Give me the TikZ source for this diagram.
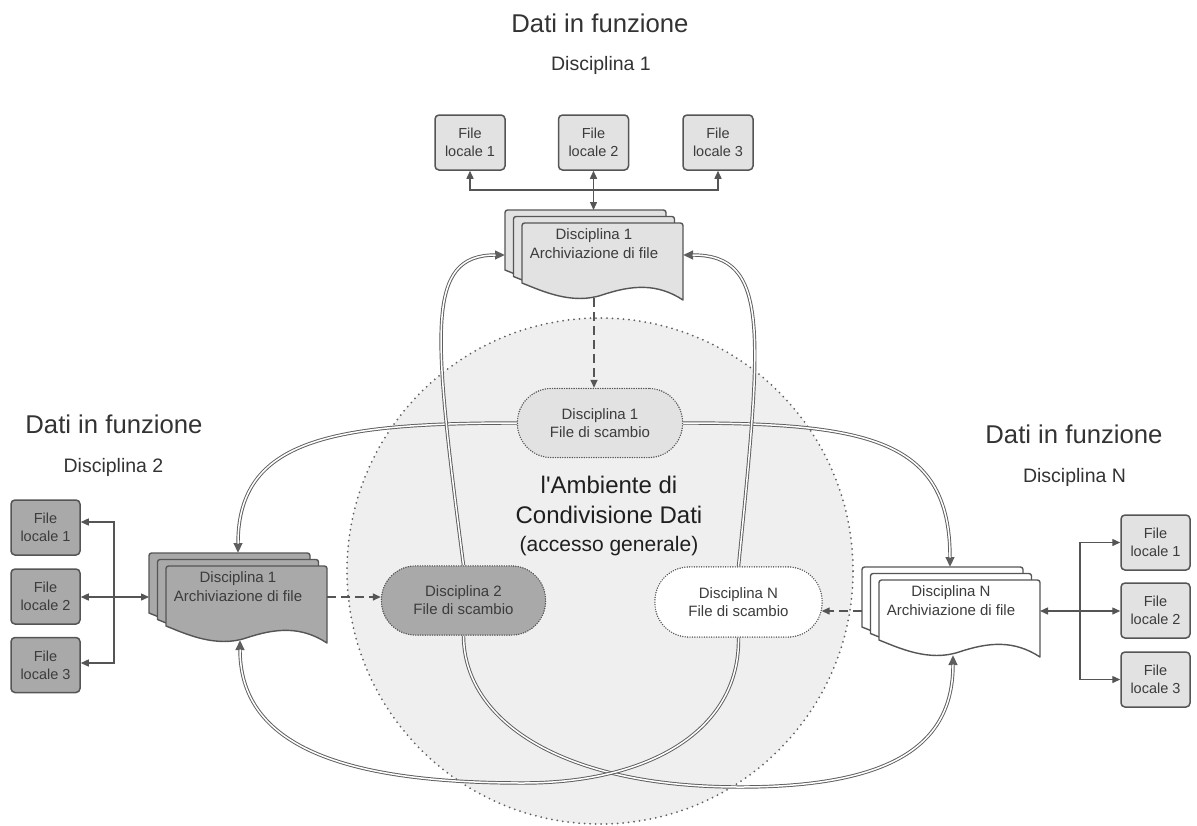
\documentclass[tikz,border=0pt]{standalone}
\usepackage{fontspec}
\setmainfont{Liberation Sans}[Ligatures=TeXOff]
\usetikzlibrary{arrows.meta}

\definecolor{ink}{HTML}{555555}
\definecolor{flowink}{HTML}{5E5E5E}
\definecolor{txt}{HTML}{3C3C3C}
\definecolor{titletxt}{HTML}{333333}
\definecolor{lightfill}{HTML}{E2E2E2}
\definecolor{darkfill}{HTML}{A9A9A9}
\definecolor{cdefill}{HTML}{EFEFEF}

\tikzset{
  >={Triangle[length=8pt,width=7pt]},
  filebox/.style={draw=ink, line width=1.5pt, rounded corners=4pt,
    minimum width=69pt, minimum height=55pt, inner sep=0pt, align=center,
    font=\fontsize{14.5}{18}\selectfont, text=txt},
  pill/.style={draw=ink, line width=1.4pt, dash pattern=on 0pt off 2.4pt,
    line cap=round, rounded corners=34pt, minimum width=165pt,
    minimum height=69pt, inner sep=0pt, align=center,
    font=\fontsize{15}{18}\selectfont, text=txt},
  docline/.style={draw=ink, line width=1.4pt, line join=round},
  doctext/.style={align=center, font=\fontsize{15}{19}\selectfont, text=txt},
  conn/.style={draw=ink, line width=1.4pt},
  dashconn/.style={conn, dash pattern=on 9pt off 5pt},
  flowouter/.style={draw=flowink, line width=3.4pt,
    -{Triangle[length=10pt,width=8.5pt]}},
  flowinner/.style={draw=white, line width=1.5pt, shorten >=9.5pt},
  bigtitle/.style={font=\fontsize{25.7}{30}\selectfont, text=titletxt},
  subtitle/.style={font=\fontsize{19.5}{24}\selectfont, text=titletxt},
}

% a double-line flow with a solid arrow head; #1 is the path
\newcommand\flow[1]{\draw[flowouter] #1; \draw[flowinner] #1;}

% one page of a document stack, top-left corner at (#1,#2)
\newcommand\docpage[3]{%
  \filldraw[docline, fill=#3, shift={(#1,#2)}]
    (0,60) {[rounded corners=2.5pt] -- (0,0) -- (161,0)} -- (161,77)
    .. controls (135,60) and (110,62) .. (80,72)
    .. controls (50,82) and (20,68) .. (0,60) -- cycle;}
% three stacked pages, front page top-left at (#1,#2)
\newcommand\docstack[3]{%
  \docpage{#1-17}{#2-13}{#3}%
  \docpage{#1-8.5}{#2-6.5}{#3}%
  \docpage{#1}{#2}{#3}}

\begin{document}
\begin{tikzpicture}[x=1pt, y=-1pt]
\useasboundingbox (0,0) rectangle (1197,825);

% shared data environment
\node[circle, fill=cdefill, draw=black!62, line width=2pt,
      dash pattern=on 0pt off 5.5pt, line cap=round,
      minimum size=506pt, inner sep=0pt] (cde) at (600,571) {};
\node[align=center, text=black!88, font=\fontsize{24}{30}\selectfont]
  (cdetxt) at (609,516)
  {l'Ambiente di\\Condivisione Dati\\[-2pt]{\fontsize{21}{26}\selectfont(accesso generale)}};

% anchor points on the document stacks
\coordinate (d1top)   at (593.5,210);
\coordinate (d1left)  at (505,255);
\coordinate (d1right) at (683,255);
\coordinate (d1bot)   at (594,298);
\coordinate (d2top)   at (238,553);
\coordinate (d2left)  at (149,597);
\coordinate (d2right) at (327,597);
\coordinate (d2bot)   at (240,640);
\coordinate (dNtop)   at (950,567);
\coordinate (dNleft)  at (862,611);
\coordinate (dNright) at (1040,611);
\coordinate (dNbot)   at (953,655);

% exchange files (placed first so the flows can attach to them)
\node[pill, fill=lightfill] (p1) at (600,423) {Disciplina 1\\File di scambio};
\node[pill, fill=darkfill, minimum width=164pt] (p2) at (463.5,600.5) {Disciplina 2\\File di scambio};
\node[pill, fill=white, minimum width=167pt, minimum height=70pt] (pN) at (738.5,602) {Disciplina N\\File di scambio};

% double-line flows between archives and exchange files
\flow{(p1.west) .. controls (330,423) and (238,440) .. (d2top)}
\flow{(p1.east) .. controls (870,423) and (950,440) .. (dNtop)}
\flow{(p2.north) .. controls (433,330) and (425,255) .. (d1left)}
\flow{(pN.north) .. controls (762,330) and (770,255) .. (d1right)}
\flow{(p2.south) .. controls (464,720) and (560,787) .. (740,787)
  .. controls (900,787) and (953,740) .. (dNbot)}
\flow{(pN.south) .. controls (740,730) and (650,783) .. (523,783)
  .. controls (330,783) and (240,740) .. (d2bot)}

% redraw the exchange files above the flow lines
\node[pill, fill=lightfill] at (p1) {Disciplina 1\\File di scambio};
\node[pill, fill=darkfill, minimum width=164pt] at (p2) {Disciplina 2\\File di scambio};
\node[pill, fill=white, minimum width=167pt, minimum height=70pt] at (pN) {Disciplina N\\File di scambio};

% archives
\docstack{522}{223}{lightfill}
\node[doctext] (d1txt) at (594,244) {Disciplina 1\\Archiviazione di file};
\docstack{166}{566}{darkfill}
\node[doctext] (d2txt) at (238,587) {Disciplina 1\\Archiviazione di file};
\docstack{879}{580}{white}
\node[doctext] (dNtxt) at (951,601) {Disciplina N\\Archiviazione di file};

% publishing to the exchange files
\draw[dashconn,->] (d1bot) -- (d1bot |- p1.north);
\draw[dashconn,->] (d2right) -- (p2.west |- d2right);
\draw[dashconn,->] (dNleft) -- ([xshift=-1pt]pN.east |- dNleft);

% local files, discipline 1
\node[filebox, fill=lightfill, minimum width=70pt] (f1) at (470,142.5) {File\\locale 1};
\node[filebox, fill=lightfill, minimum width=70pt] (f2) at (593.5,142.5) {File\\locale 2};
\node[filebox, fill=lightfill, minimum width=70pt] (f3) at (718,142.5) {File\\locale 3};
\coordinate (j1) at (593.5,190);
\draw[conn,->] (j1) -| (f1.south);
\draw[conn,->] (j1) -| (f3.south);
\draw[conn,<->] (f2.south) -- (d1top);

% local files, discipline 2
\node[filebox, fill=darkfill] (l1) at (45.5,527.5) {File\\locale 1};
\node[filebox, fill=darkfill] (l2) at (45.5,596.5) {File\\locale 2};
\node[filebox, fill=darkfill] (l3) at (45.5,665) {File\\locale 3};
\coordinate (lj) at (114,597);
\draw[conn,<->] (l2.east |- d2left) -- (d2left);
\draw[conn,->] (lj) |- ([yshift=5.5pt]l1.east);
\draw[conn,->] (lj) |- ([yshift=2pt]l3.east);

% local files, discipline N
\node[filebox, fill=lightfill] (r1) at (1155.5,542.5) {File\\locale 1};
\node[filebox, fill=lightfill] (r2) at (1155.5,610.5) {File\\locale 2};
\node[filebox, fill=lightfill] (r3) at (1155.5,679.5) {File\\locale 3};
\coordinate (rj) at (1080,611);
\draw[conn,<->] (dNright) -- (r2.west |- dNright);
\draw[conn,->] (rj) |- (r1.west);
\draw[conn,->] (rj) |- (r3.west);

% headings
\node[bigtitle] (t1) at (600,23) {Dati in funzione};
\node[subtitle] (s1) at (601,65) {Disciplina 1};
\node[bigtitle] (t2) at (114,424) {Dati in funzione};
\node[subtitle] (s2) at (113.5,467) {Disciplina 2};
\node[bigtitle] (tN) at (1074,434) {Dati in funzione};
\node[subtitle] (sN) at (1074.5,477) {Disciplina N};
\end{tikzpicture}
\end{document}
